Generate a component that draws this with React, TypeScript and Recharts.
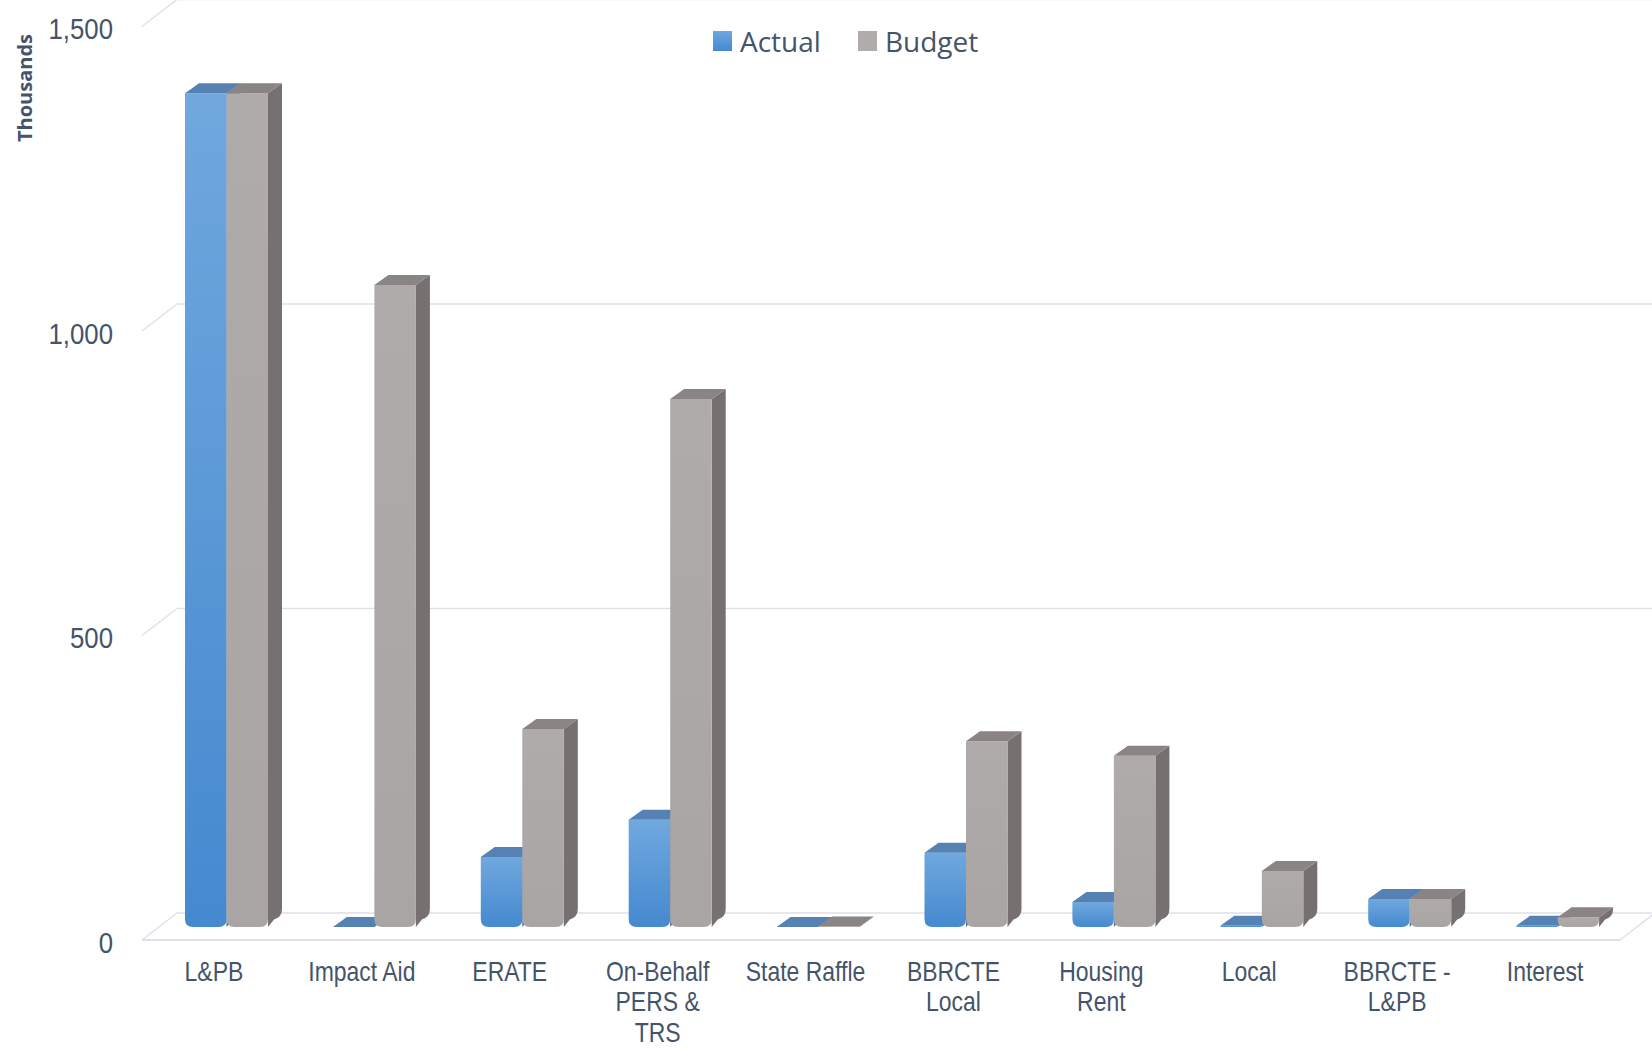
import React from 'react';
import { BarChart, Bar, XAxis, YAxis, CartesianGrid, Legend } from 'recharts';

const categories = [
  'L&PB',
  'Impact Aid',
  'ERATE',
  'On-Behalf PERS & TRS',
  'State Raffle',
  'BBRCTE Local',
  'Housing Rent',
  'Local',
  'BBRCTE - L&PB',
  'Interest'
];
const actual = [1369, 0, 115, 176, 0, 122, 41, 2, 46, 2];
const budget = [1369, 1054, 325, 867, 1, 305, 281, 92, 46, 16];
const yTicks = [0, 500, 1000, 1500];

const data = categories.map((name, i) => ({ name, actual: actual[i], budget: budget[i] }));

const W = 1652;
const H = 1049;
const X_AXIS_H = 122;
const PLOT_BOTTOM = H - X_AXIS_H;
const TEXT = '#44546a';
const SANS = '"Liberation Sans", Arial, sans-serif';
const NARROW_SCALE = 0.82;
const GRID = '#dfe1e8';

// bar depth
const DX = 14;
const DY = 10;

let ctx: CanvasRenderingContext2D | null = null;
function measure(s: string, font: string) {
  if (!ctx) ctx = document.createElement('canvas').getContext('2d');
  if (!ctx) return s.length * 15;
  ctx.font = font;
  return ctx.measureText(s).width;
}

function wrap(label: string, maxW: number, font: string) {
  const words = label.split(' ');
  const lines: string[] = [];
  let cur = '';
  words.forEach((w) => {
    const next = cur ? cur + ' ' + w : w;
    if (cur && measure(next, font) > maxW) {
      lines.push(cur);
      cur = w;
    } else {
      cur = next;
    }
  });
  if (cur) lines.push(cur);
  return lines;
}

const makeBox = (front: string, top: string, side: string) => (props: any) => {
  const { x, y, width: w, height: h } = props;
  const r = Math.min(8, h);
  const frontPath = `M${x},${y} L${x + w},${y} L${x + w},${y + h - r} Q${x + w},${y + h} ${x + w - r},${y + h} L${x + r},${y + h} Q${x},${y + h} ${x},${y + h - r} Z`;
  const sidePath = `M${x + w},${y} L${x + w + DX},${y - DY} L${x + w + DX},${y + h - DY - r} Q${x + w + DX},${y + h - DY} ${x + w + DX - r},${y + h - DY + r * 0.3} L${x + w},${y + h} Z`;
  const topPath = `M${x},${y} L${x + w},${y} L${x + w + DX},${y - DY} L${x + DX},${y - DY} Z`;
  return (
    <g>
      {h > 0 && <path d={sidePath} fill={side} />}
      {h > 0 && <path d={frontPath} fill={front} />}
      <path d={topPath} fill={top} />
    </g>
  );
};

const ActualShape = makeBox('url(#actualFront)', '#5582b3', '#3d6d9f');
const BudgetShape = makeBox('url(#budgetFront)', '#8a8584', '#767170');

const GridLine = (props: any) => {
  const { x1, x2, y1 } = props;
  const fx = x1 - 11;
  const bx = x1 + 24;
  const fy = y1 + 13;
  const by = y1 - 14;
  const isFloor = Math.abs(y1 - PLOT_BOTTOM) < 1;
  return (
    <g>
      <line x1={fx} y1={fy} x2={bx} y2={by} stroke={GRID} strokeWidth={1.5} />
      <line x1={bx} y1={by} x2={W} y2={by} stroke={GRID} strokeWidth={1.5} />
      {isFloor && <line x1={fx} y1={fy} x2={x2 - 12} y2={fy} stroke={GRID} strokeWidth={2} />}
      {isFloor && <line x1={x2 - 12} y1={fy} x2={x2 + 23} y2={by} stroke={GRID} strokeWidth={1.5} />}
    </g>
  );
};

const YTick = (props: any) => {
  const { x, y, payload } = props;
  return (
    <g transform={`translate(${x - 40} ${y + 15}) scale(0.86 1)`}>
      <text x={0} y={0} dy="0.36em" textAnchor="end" fill={TEXT} fontSize={30} fontFamily={SANS}>
        {Number(payload.value).toLocaleString('en-US')}
      </text>
    </g>
  );
};

const XTick = (props: any) => {
  const { x, y, payload } = props;
  const lines = wrap(String(payload.value), 156, '28px "Liberation Sans"');
  return (
    <g transform={`translate(${x - 13} ${y + 54}) scale(${NARROW_SCALE} 1)`}>
      <text x={0} y={0} textAnchor="middle" fill={TEXT} fontSize={28} fontFamily={SANS}>
        {lines.map((l, i) => (
          <tspan key={i} x={0} dy={i === 0 ? 0 : 30.5}>
            {l}
          </tspan>
        ))}
      </text>
    </g>
  );
};

const LegendContent = (props: any) => {
  const { payload } = props;
  return (
    <div style={{ display: 'flex', alignItems: 'center', fontFamily: '"Open Sans", sans-serif', fontSize: 28, color: TEXT }}>
      {(payload || []).map((p: any, i: number) => (
        <div key={p.value} style={{ display: 'flex', alignItems: 'center', marginLeft: i === 0 ? 0 : 37 }}>
          <div
            style={{
              width: 19,
              height: 20,
              marginRight: 8,
              background: i === 0 ? 'linear-gradient(#6fa7de, #4589cf)' : '#b0acab'
            }}
          />
          <span>{p.value}</span>
        </div>
      ))}
    </div>
  );
};

export default function App() {
  return (
    <div style={{ position: 'absolute', left: 0, top: 0, background: '#fff' }}>
      <BarChart
        width={W}
        height={H}
        data={data}
        margin={{ top: 13.5, right: 20, left: 0, bottom: 0 }}
        barSize={41.5}
        barGap={0}
      >
        <defs>
          <linearGradient id="actualFront" x1="0" y1="0" x2="0" y2="1">
            <stop offset="0%" stopColor="#70a8de" />
            <stop offset="100%" stopColor="#4589cf" />
          </linearGradient>
          <linearGradient id="budgetFront" x1="0" y1="0" x2="0" y2="1">
            <stop offset="0%" stopColor="#afabaa" />
            <stop offset="100%" stopColor="#a9a5a4" />
          </linearGradient>
        </defs>
        <CartesianGrid vertical={false} horizontal={GridLine} />
        <XAxis
          dataKey="name"
          height={X_AXIS_H}
          axisLine={false}
          tickLine={false}
          tickSize={0}
          tickMargin={0}
          interval={0}
          tick={XTick}
        />
        <YAxis
          domain={[0, 1500]}
          ticks={yTicks}
          width={153}
          axisLine={false}
          tickLine={false}
          tickSize={0}
          tickMargin={0}
          tick={YTick}
          label={() => (
            <text
              x={24}
              y={88}
              transform="rotate(-90 24 88)"
              textAnchor="middle"
              dominantBaseline="central"
              fill={TEXT}
              fontSize={20}
              fontWeight={700}
              fontFamily='"Open Sans", sans-serif'
            >
              Thousands
            </text>
          )}
        />
        <Legend
          content={LegendContent}
          layout="horizontal"
          verticalAlign="middle"
          align="center"
          wrapperStyle={{ top: 22, left: 713, width: 'auto' }}
        />
        <Bar dataKey="actual" name="Actual" fill="#5b9bd5" shape={ActualShape} isAnimationActive={false} />
        <Bar dataKey="budget" name="Budget" fill="#aeaaaa" shape={BudgetShape} isAnimationActive={false} />
      </BarChart>
    </div>
  );
}
